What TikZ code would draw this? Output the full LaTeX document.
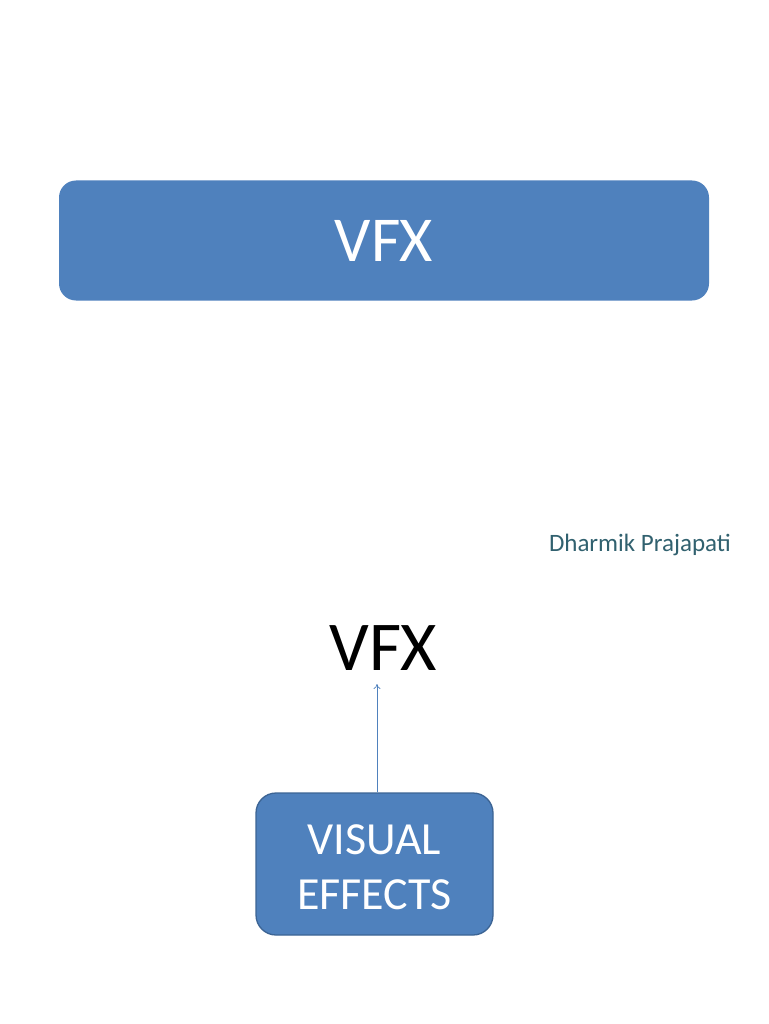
\documentclass[tikz,border=0pt]{standalone}
\usepackage{fontspec}
\setmainfont{Carlito}
\usetikzlibrary{arrows.meta}
\definecolor{boxblue}{HTML}{4F81BD}
\definecolor{boxedge}{HTML}{3C6494}
\definecolor{authorcol}{HTML}{31616F}
\begin{document}
\begin{tikzpicture}[x=1pt,y=-1pt,
  titlebox/.style={fill=boxblue, rounded corners=17pt, inner sep=0pt, text=white},
  effbox/.style={fill=boxblue, draw=boxedge, line width=1.3pt, rounded corners=20pt, inner sep=0pt},
  efftext/.style={text=white, align=center, inner sep=0pt, font=\fontsize{46}{55}\selectfont},
  link/.style={draw=boxblue, line width=0.7pt, -{To[length=5pt,width=7pt]}}
]
\useasboundingbox (0,0) rectangle (768,1024);
\fill[white] (0,0) rectangle (768,1024);
\node[titlebox, minimum width=650pt, minimum height=120pt, font=\fontsize{64}{70}\selectfont] (title) at (384,240.5) {VFX};
\node[anchor=base east, text=authorcol, font=\fontsize{25}{30}\selectfont, inner sep=0pt] (author) at (731,551) {Dharmik Prajapati};
\node[anchor=base, font=\fontsize{70}{80}\selectfont, inner sep=0pt] (vfx) at (383.5,670) {VFX};
\node[effbox, minimum width=237pt, minimum height=142pt] (eff) at (374.5,864) {};
\node[efftext] (efflabel) at (374.5,867) {VISUAL\\EFFECTS};
\coordinate (arrtip) at (377,684);
\draw[link] (eff.north -| arrtip) -- (arrtip);
\end{tikzpicture}
\end{document}
